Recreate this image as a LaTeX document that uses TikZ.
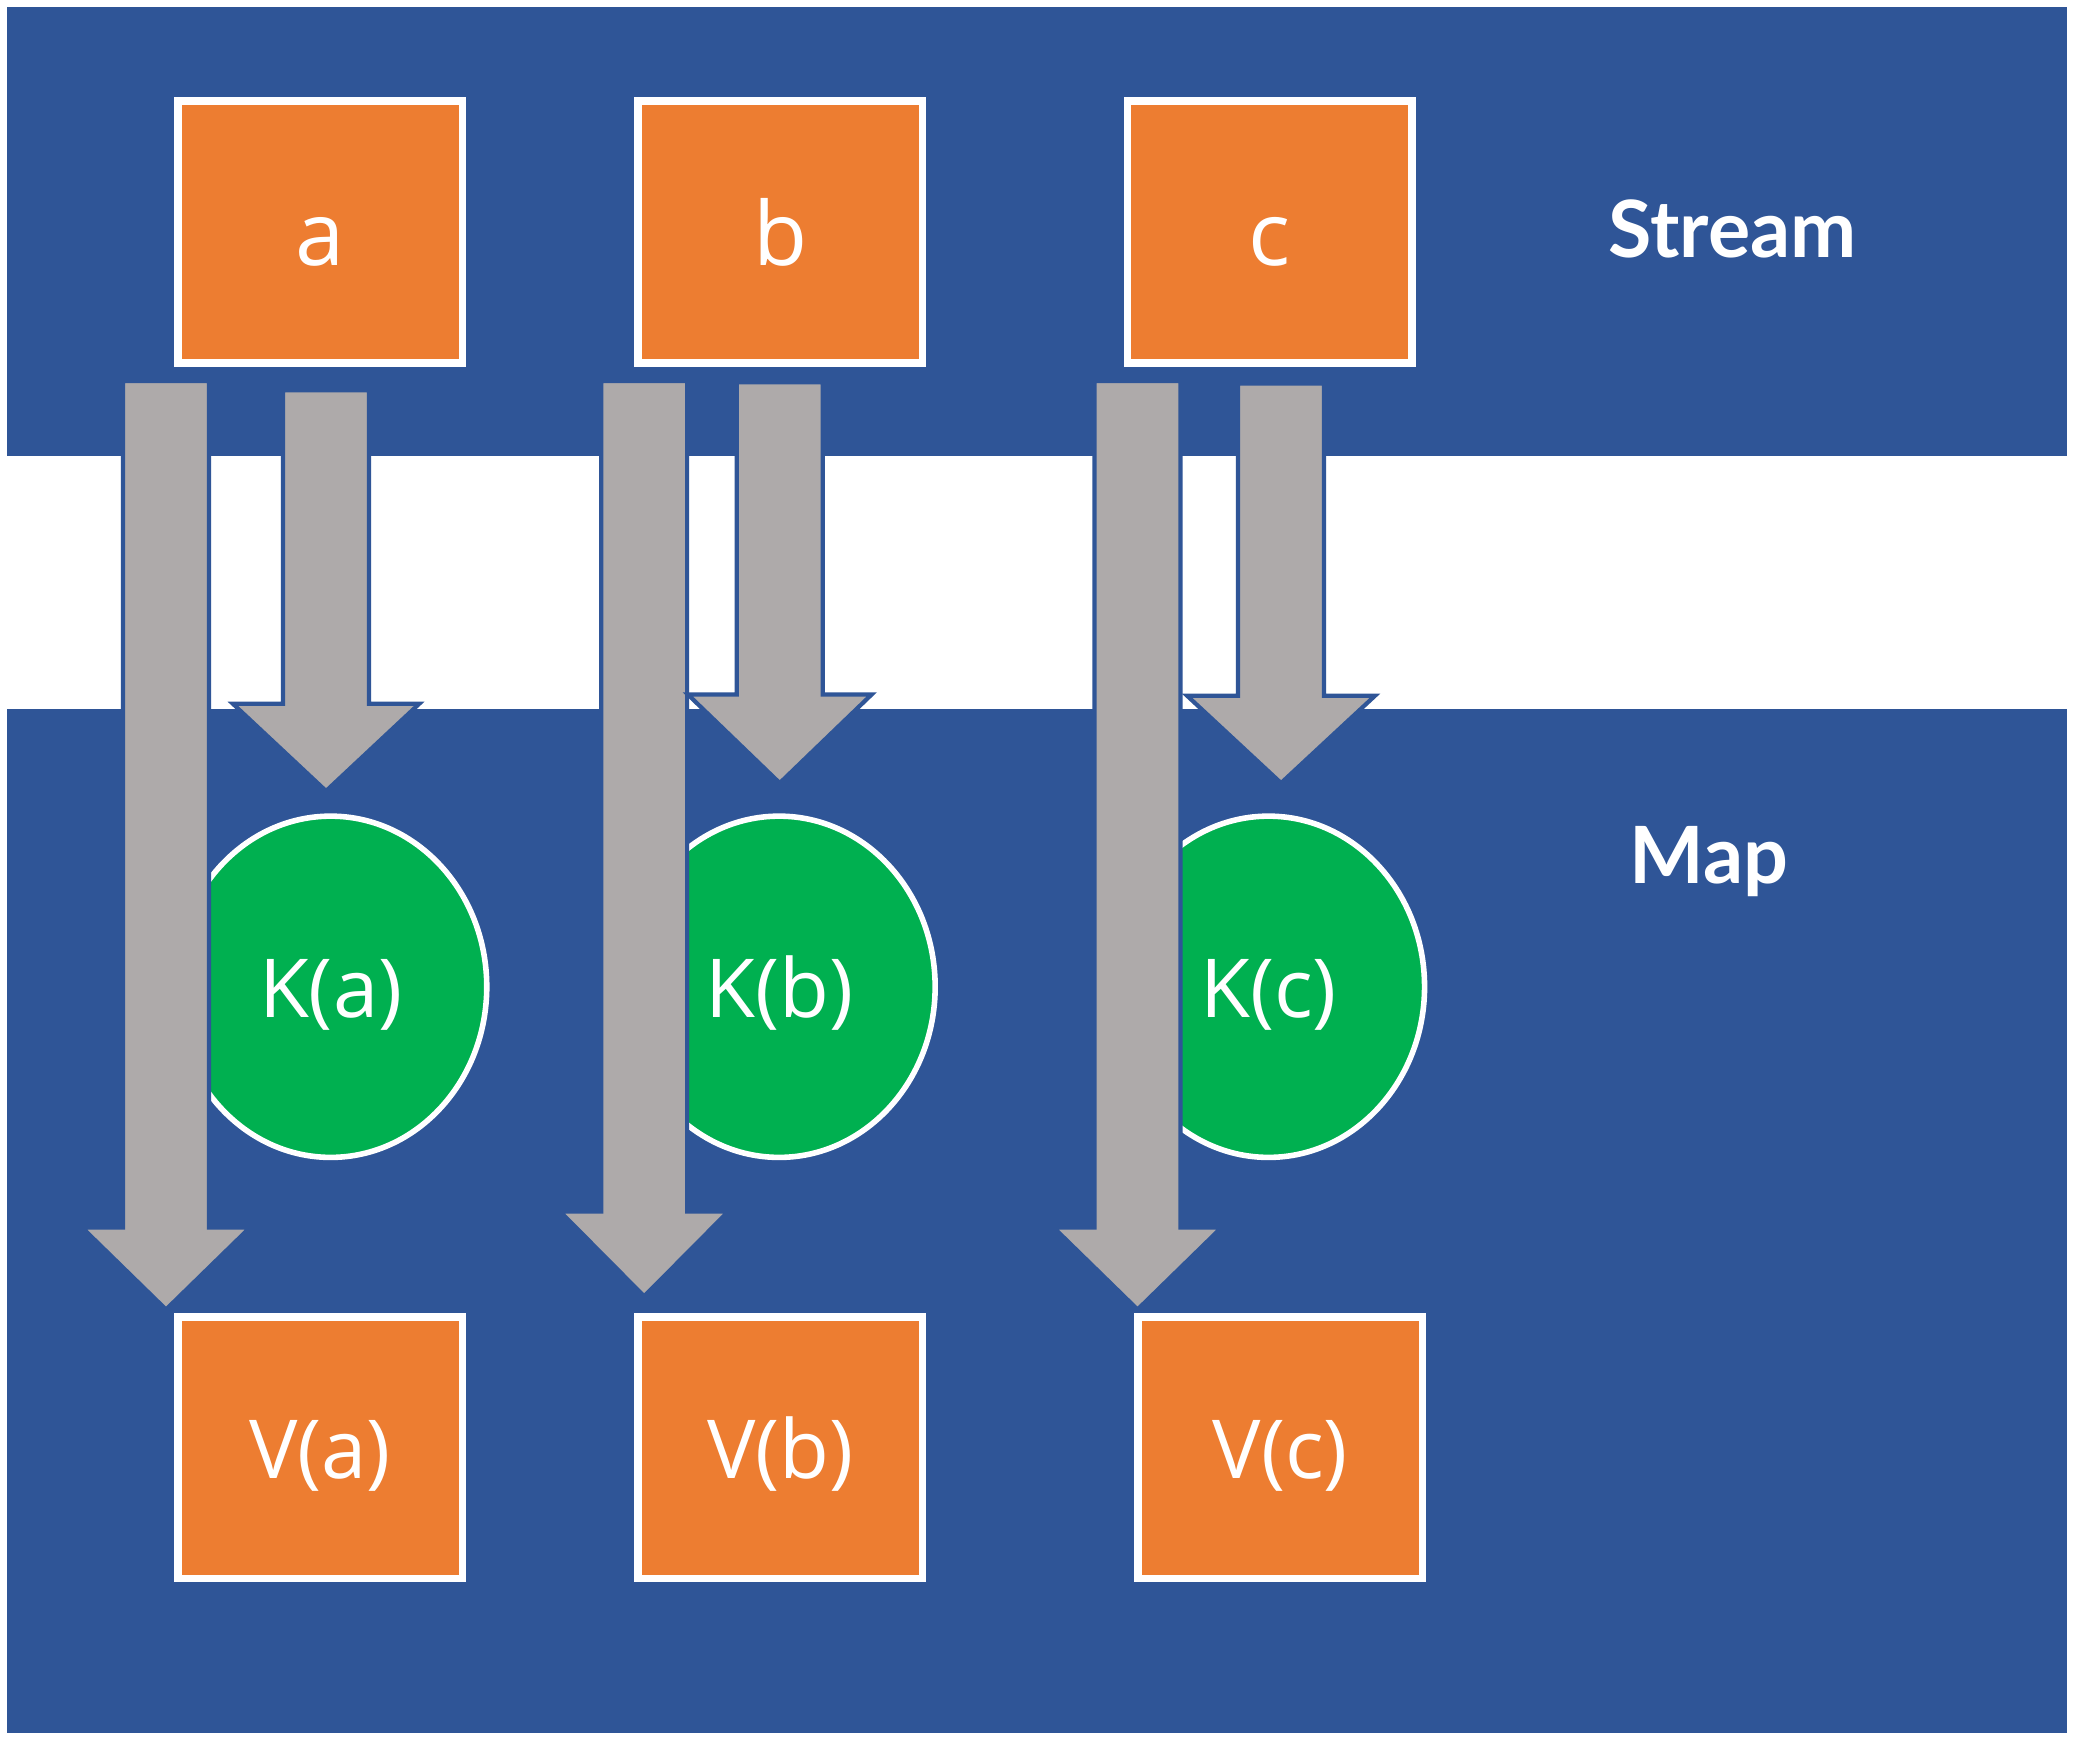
\documentclass[tikz,border=0pt]{standalone}
\usepackage{fontspec}
\setmainfont{Open Sans}
\newfontfamily\bandfont{Lato}
\usetikzlibrary{positioning,shapes.geometric}
\definecolor{bgblue}{HTML}{2F5597}
\definecolor{boxorange}{HTML}{ED7D31}
\definecolor{keygreen}{HTML}{00B050}
\definecolor{flowgray}{HTML}{AEAAAA}
\tikzset{databox/.style={rectangle,draw=white,line width=1.6pt,fill=boxorange,minimum width=2.15cm,minimum height=1.98cm,inner sep=0pt,text=white,text height=13.4pt,text depth=0pt,font=\fontsize{17.5}{21}\selectfont}}
\tikzset{keynode/.style={ellipse,draw=white,line width=1.2pt,fill=keygreen,minimum width=2.36cm,minimum height=2.58cm,inner sep=0pt,text=white,text height=13.4pt,text depth=0pt,font=\fontsize{17.5}{21}\selectfont}}
\tikzset{bigletter/.style={text height=14.2pt,font=\fontsize{19}{23}\selectfont}}
\tikzset{bandlabel/.style={text=white,anchor=base,inner sep=0pt,font=\bandfont\bfseries\fontsize{17}{21}\selectfont}}
\tikzset{flow/.style={fill=flowgray,draw=bgblue,line width=0.9pt,line join=miter}}
% x, top, neck, tip, shaft half width, head half width
\newcommand\blockarrow[6]{\filldraw[flow] (#1-#5,#2) -- (#1+#5,#2) -- (#1+#5,#3) -- (#1+#6,#3) -- (#1,#4) -- (#1-#6,#3) -- (#1-#5,#3) -- cycle;}

\begin{document}
\begin{tikzpicture}
                \useasboundingbox (0,0) rectangle (15.68,-13.15);
                \fill[white] (0,0) rectangle (15.68,-13.15);
                \fill[bgblue] (0.05,-0.05) rectangle (15.63,-13.10);
                \fill[white] (0.05,-3.45) rectangle (15.63,-5.36);

                \node[databox,bigletter] (a) at (2.42,-1.755) {a};
                \node[databox,bigletter] (b) at (5.90,-1.755) {b};
                \node[databox,bigletter] (c) at (9.60,-1.755) {c};

                \node[keynode] (ka) at (2.50,-7.46) {K(a)};
                \node[keynode] (kb) at (5.89,-7.46) {K(b)};
                \node[keynode] (kc) at (9.59,-7.46) {K(c)};

                \node[databox] (va) at (2.42,-10.945) {V(a)};
                \node[databox] (vb) at (5.90,-10.945) {V(b)};
                \node[databox] (vc) at (9.68,-10.945) {V(c)};

                \node[bandlabel] (stream) at (13.10,-1.95) {Stream};
                \node[bandlabel] (map) at (12.92,-6.68) {Map};

                % long arrows: a to V(a)
                \foreach \x/\t/\n/\p in {1.255/-2.88/-9.28/-9.90, 4.87/-2.88/-9.16/-9.80, 8.60/-2.88/-9.28/-9.90}
                    \blockarrow{\x}{\t}{\n}{\p}{0.325}{0.635};
                % short arrows: a to K(a)
                \foreach \x/\t/\n/\p/\h in {2.465/-2.95/-5.32/-5.98/0.705, 5.895/-2.89/-5.25/-5.92/0.695, 9.685/-2.90/-5.26/-5.92/0.71}
                    \blockarrow{\x}{\t}{\n}{\p}{0.325}{\h};
            \end{tikzpicture}
\end{document}
